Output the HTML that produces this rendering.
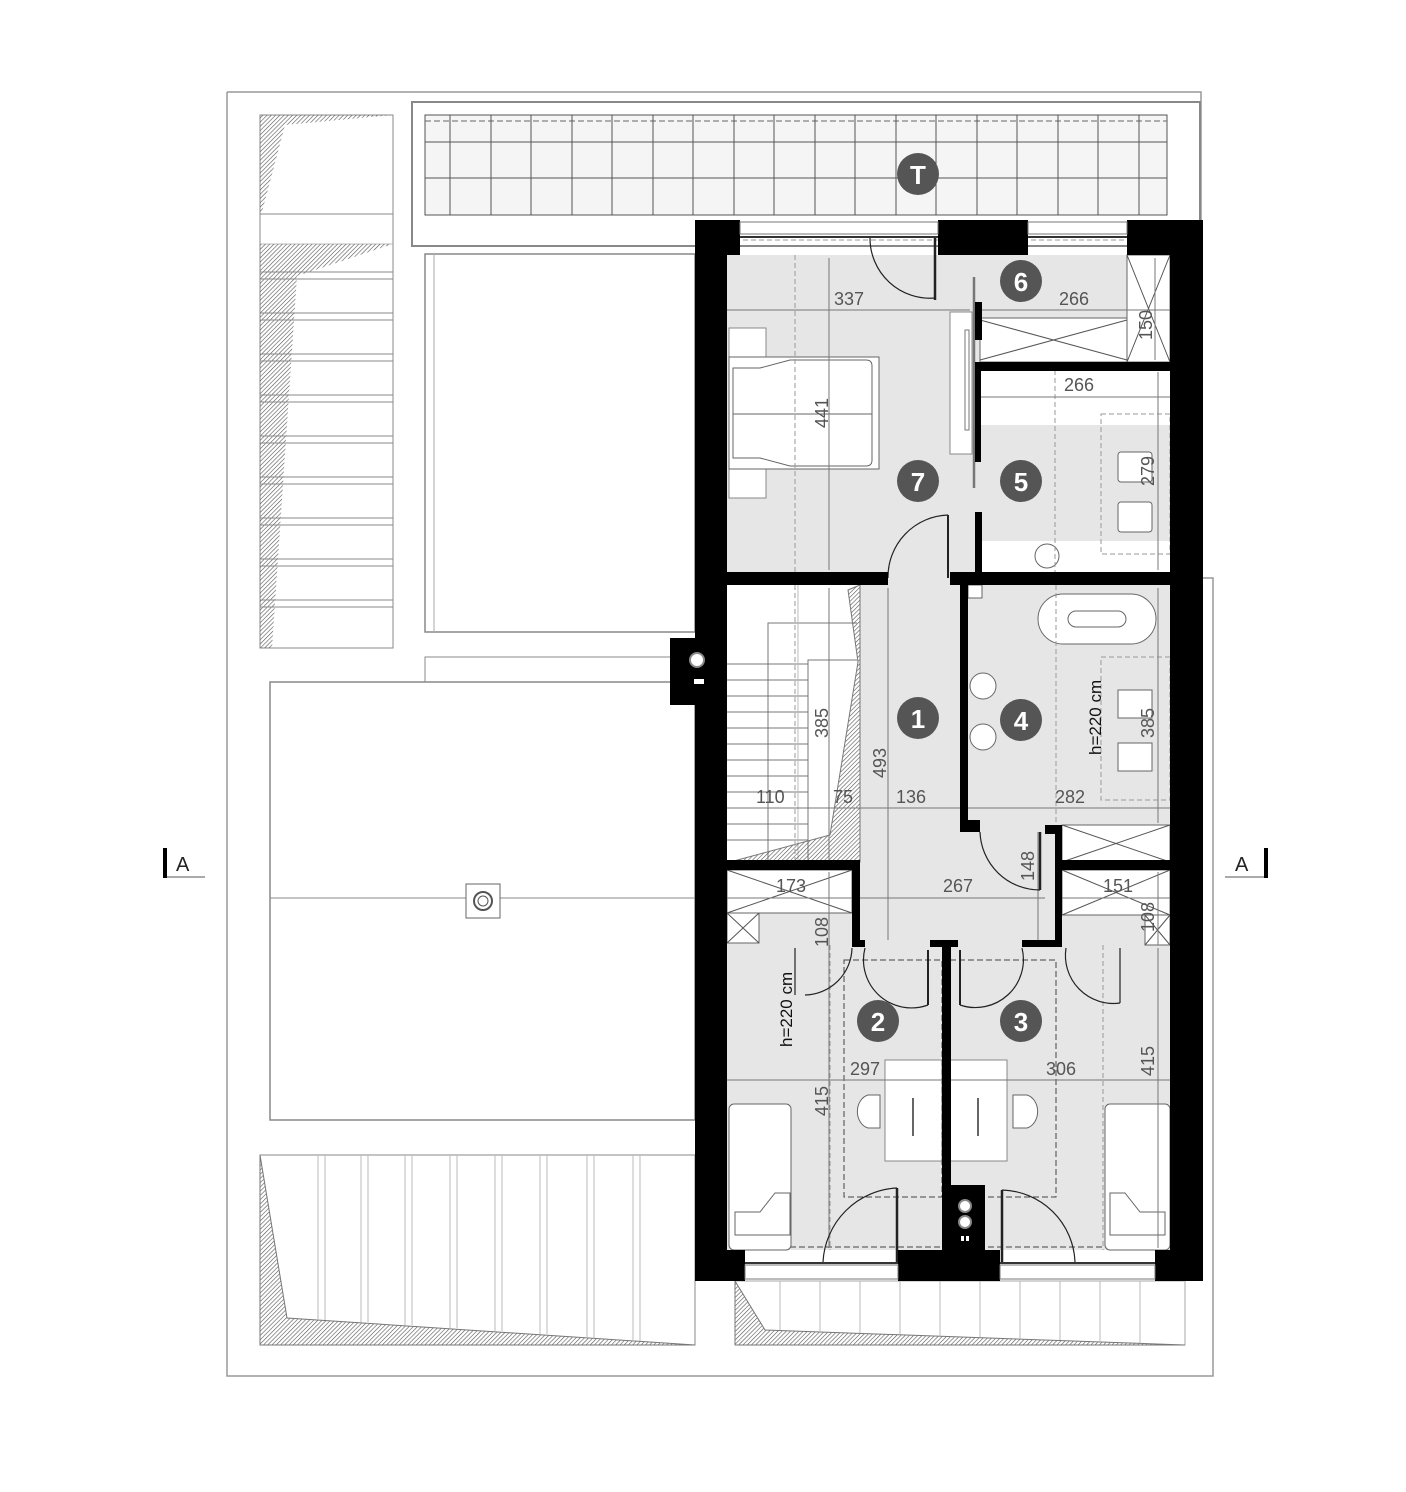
<!DOCTYPE html>
<html><head><meta charset="utf-8"><style>
html,body{margin:0;padding:0;background:#fff}
svg{display:block}
.d{font-family:"Liberation Sans Narrow","Liberation Sans",sans-serif;font-size:18px;fill:#555}
.n{font-family:"Liberation Sans",sans-serif;font-size:26px;font-weight:bold;fill:#fff;text-anchor:middle}
</style></head><body>
<svg width="1406" height="1492" viewBox="0 0 1406 1492" xmlns="http://www.w3.org/2000/svg">
<defs>
<pattern id="h" width="3" height="3" patternUnits="userSpaceOnUse" patternTransform="rotate(45)"><line x1="0" y1="0" x2="0" y2="3" stroke="#555" stroke-width="1.2"/></pattern>
</defs>
<!-- outer frame -->
<path d="M227 92 H1201 V220 M1201 578 H1213 V1376 H227 V92" fill="none" stroke="#999" stroke-width="1.5"/>

<!-- left stairs top -->
<rect x="260" y="115" width="133" height="533" fill="#fff" stroke="#888"/>
<polygon points="260,115 393,115 285,125 262,212 260,212" fill="url(#h)"/>
<line x1="260" y1="214" x2="393" y2="214" stroke="#888"/>
<line x1="260" y1="244" x2="393" y2="244" stroke="#bbb"/>
<polygon points="260,244 393,244 297,276 272,648 260,648" fill="url(#h)"/>
<g stroke="#888">
<line x1="260" y1="272" x2="393" y2="272"/><line x1="260" y1="279" x2="393" y2="279"/>
<line x1="260" y1="313" x2="393" y2="313"/><line x1="260" y1="320" x2="393" y2="320"/>
<line x1="260" y1="354" x2="393" y2="354"/><line x1="260" y1="361" x2="393" y2="361"/>
<line x1="260" y1="395" x2="393" y2="395"/><line x1="260" y1="402" x2="393" y2="402"/>
<line x1="260" y1="436" x2="393" y2="436"/><line x1="260" y1="443" x2="393" y2="443"/>
<line x1="260" y1="477" x2="393" y2="477"/><line x1="260" y1="484" x2="393" y2="484"/>
<line x1="260" y1="518" x2="393" y2="518"/><line x1="260" y1="525" x2="393" y2="525"/>
<line x1="260" y1="559" x2="393" y2="559"/><line x1="260" y1="566" x2="393" y2="566"/>
<line x1="260" y1="600" x2="393" y2="600"/><line x1="260" y1="607" x2="393" y2="607"/>
</g>

<!-- terrace -->
<rect x="412" y="102" width="788" height="144" fill="#fff" stroke="#888" stroke-width="2"/>
<rect x="425" y="115" width="742" height="100" fill="#f5f5f5" stroke="#555"/>
<line x1="425" y1="121" x2="1167" y2="121" stroke="#666" stroke-dasharray="6,3"/>
<g stroke="#555">
<line x1="425" y1="142" x2="1167" y2="142"/><line x1="425" y1="178" x2="1167" y2="178"/>
<line x1="450" y1="115" x2="450" y2="215"/><line x1="491" y1="115" x2="491" y2="215"/><line x1="531" y1="115" x2="531" y2="215"/><line x1="572" y1="115" x2="572" y2="215"/><line x1="612" y1="115" x2="612" y2="215"/><line x1="653" y1="115" x2="653" y2="215"/><line x1="693" y1="115" x2="693" y2="215"/><line x1="734" y1="115" x2="734" y2="215"/><line x1="774" y1="115" x2="774" y2="215"/><line x1="815" y1="115" x2="815" y2="215"/><line x1="855" y1="115" x2="855" y2="215"/><line x1="896" y1="115" x2="896" y2="215"/><line x1="936" y1="115" x2="936" y2="215"/><line x1="977" y1="115" x2="977" y2="215"/><line x1="1017" y1="115" x2="1017" y2="215"/><line x1="1058" y1="115" x2="1058" y2="215"/><line x1="1098" y1="115" x2="1098" y2="215"/><line x1="1139" y1="115" x2="1139" y2="215"/>
</g>

<!-- roof areas left -->
<rect x="425" y="254" width="270" height="378" fill="#fff" stroke="#888" stroke-width="1.5"/>
<line x1="434" y1="254" x2="434" y2="632" stroke="#aaa"/>
<path d="M425 682 V657 H695" fill="none" stroke="#888"/>
<rect x="270" y="682" width="425" height="438" fill="#fff" stroke="#888" stroke-width="1.5"/>
<line x1="270" y1="898" x2="695" y2="898" stroke="#888"/>
<rect x="466" y="884" width="34" height="34" fill="#fff" stroke="#666"/>
<circle cx="483" cy="901" r="9" fill="none" stroke="#555" stroke-width="2"/><circle cx="483" cy="901" r="5" fill="none" stroke="#555"/>

<!-- bottom left roof -->
<rect x="260" y="1155" width="435" height="190" fill="#fff" stroke="#888"/>
<polygon points="260,1155 287,1318 695,1345 260,1345" fill="url(#h)" stroke="#777"/>
<g stroke="#bbb">
<line x1="318" y1="1155" x2="318" y2="1320"/><line x1="325" y1="1155" x2="325" y2="1320"/>
<line x1="361" y1="1155" x2="361" y2="1322"/><line x1="368" y1="1155" x2="368" y2="1322"/>
<line x1="405" y1="1155" x2="405" y2="1325"/><line x1="412" y1="1155" x2="412" y2="1325"/>
<line x1="450" y1="1155" x2="450" y2="1328"/><line x1="457" y1="1155" x2="457" y2="1328"/>
<line x1="495" y1="1155" x2="495" y2="1331"/><line x1="502" y1="1155" x2="502" y2="1331"/>
<line x1="540" y1="1155" x2="540" y2="1334"/><line x1="547" y1="1155" x2="547" y2="1334"/>
<line x1="587" y1="1155" x2="587" y2="1338"/><line x1="594" y1="1155" x2="594" y2="1338"/>
<line x1="633" y1="1155" x2="633" y2="1341"/><line x1="640" y1="1155" x2="640" y2="1341"/>
</g>
<rect x="735" y="1281" width="450" height="64" fill="#fff" stroke="#aaa"/>
<polygon points="735,1281 765,1330 1185,1345 735,1345" fill="url(#h)" stroke="#777"/>
<g stroke="#bbb">
<line x1="780" y1="1281" x2="780" y2="1330"/><line x1="820" y1="1281" x2="820" y2="1332"/><line x1="860" y1="1281" x2="860" y2="1333"/><line x1="900" y1="1281" x2="900" y2="1334"/><line x1="940" y1="1281" x2="940" y2="1336"/><line x1="980" y1="1281" x2="980" y2="1337"/><line x1="1020" y1="1281" x2="1020" y2="1339"/><line x1="1060" y1="1281" x2="1060" y2="1340"/><line x1="1100" y1="1281" x2="1100" y2="1341"/><line x1="1140" y1="1281" x2="1140" y2="1343"/>
</g>

<!-- interior floor -->
<rect x="727" y="255" width="443" height="995" fill="#e6e6e6"/>
<rect x="980" y="318" width="190" height="44" fill="#fff" stroke="#666"/>
<path d="M980 320 L1127 360 M980 360 L1127 320" stroke="#555"/>
<rect x="1127" y="255" width="43" height="107" fill="#fff" stroke="#666"/>
<path d="M1127 255 L1170 362 M1170 255 L1127 362" stroke="#555"/>
<rect x="980" y="370" width="190" height="55" fill="#fff"/>
<rect x="980" y="541" width="190" height="31" fill="#fff"/>
<circle cx="1047" cy="556" r="12" fill="#fff" stroke="#666"/>
<rect x="1101" y="414" width="69" height="140" fill="none" stroke="#999" stroke-dasharray="5,3"/>
<rect x="1118" y="452" width="34" height="30" fill="#fff" stroke="#666" rx="3"/>
<rect x="1118" y="502" width="34" height="30" fill="#fff" stroke="#666" rx="3"/>
<rect x="729" y="328" width="37" height="170" fill="#fff" stroke="#888"/>
<rect x="729" y="357" width="150" height="112" fill="#fff" stroke="#666"/>
<path d="M733 368 H760 L790 360 H866 Q872 360 872 366 V460 Q872 466 866 466 H790 L760 458 H733 Z" fill="#fff" stroke="#666"/>
<line x1="733" y1="414" x2="872" y2="414" stroke="#666"/>
<rect x="950" y="312" width="22" height="142" fill="#fff" stroke="#888"/>
<rect x="965" y="330" width="4" height="100" fill="#fff" stroke="#777"/>
<rect x="727" y="585" width="133" height="277" fill="#fff"/>
<g stroke="#777">
<line x1="727" y1="664" x2="808" y2="664"/><line x1="727" y1="680" x2="808" y2="680"/><line x1="727" y1="696" x2="808" y2="696"/><line x1="727" y1="712" x2="808" y2="712"/><line x1="727" y1="728" x2="808" y2="728"/><line x1="727" y1="744" x2="808" y2="744"/><line x1="727" y1="760" x2="808" y2="760"/><line x1="727" y1="776" x2="808" y2="776"/><line x1="727" y1="792" x2="808" y2="792"/><line x1="727" y1="808" x2="808" y2="808"/><line x1="727" y1="824" x2="808" y2="824"/><line x1="727" y1="840" x2="808" y2="840"/>
<path d="M768 862 V623 H857" fill="none"/><path d="M808 862 V660 H857" fill="none"/>
<line x1="798" y1="585" x2="798" y2="862" stroke="#bbb"/>
</g>
<polygon points="860,585 860,862 730,862 830,835 858,662 848,590" fill="url(#h)" stroke="#777"/>
<rect x="1038" y="594" width="118" height="50" rx="25" fill="#fff" stroke="#666"/>
<rect x="1068" y="611" width="58" height="16" rx="8" fill="#fff" stroke="#666"/>
<circle cx="983" cy="686" r="13" fill="#fff" stroke="#666"/>
<circle cx="983" cy="737" r="13" fill="#fff" stroke="#666"/>
<rect x="968" y="585" width="14" height="13" fill="#fff" stroke="#666"/>
<rect x="1101" y="657" width="69" height="143" fill="none" stroke="#999" stroke-dasharray="5,3"/>
<rect x="1118" y="690" width="34" height="28" fill="#fff" stroke="#666"/>
<rect x="1118" y="743" width="34" height="28" fill="#fff" stroke="#666"/>
<rect x="1062" y="825" width="108" height="37" fill="#fff" stroke="#666"/>
<path d="M1062 825 L1170 862 M1170 825 L1062 862" stroke="#555"/>
<rect x="727" y="870" width="125" height="43" fill="#fff" stroke="#666"/>
<path d="M727 870 L852 913 M852 870 L727 913" stroke="#555"/>
<rect x="727" y="913" width="32" height="30" fill="#fff" stroke="#666"/>
<path d="M727 913 L759 943 M759 913 L727 943" stroke="#555"/>
<rect x="1062" y="870" width="108" height="45" fill="#fff" stroke="#666"/>
<path d="M1062 870 L1170 915 M1170 870 L1062 915" stroke="#555"/>
<rect x="1145" y="915" width="25" height="30" fill="#fff" stroke="#666"/>
<path d="M1145 915 L1170 945 M1170 915 L1145 945" stroke="#555"/>
<rect x="885" y="1060" width="57" height="101" fill="#fff" stroke="#888"/>
<rect x="950" y="1060" width="57" height="101" fill="#fff" stroke="#888"/>
<path d="M880 1095 H868 A14 17 0 0 0 868 1128 H880 Z" fill="#fff" stroke="#666"/>
<path d="M1013 1095 H1027 A14 17 0 0 1 1027 1128 H1013 Z" fill="#fff" stroke="#666"/>
<line x1="913" y1="1098" x2="913" y2="1136" stroke="#333" stroke-width="1.5"/>
<line x1="978" y1="1098" x2="978" y2="1136" stroke="#333" stroke-width="1.5"/>
<rect x="844" y="960" width="98" height="237" fill="none" stroke="#444" stroke-dasharray="6,3"/>
<rect x="950" y="960" width="106" height="237" fill="none" stroke="#444" stroke-dasharray="6,3"/>
<line x1="745" y1="1247" x2="1155" y2="1247" stroke="#444" stroke-dasharray="6,3"/>
<rect x="729" y="1104" width="62" height="146" rx="5" fill="#fff" stroke="#666"/>
<path d="M735 1212 H760 L775 1193 H790 V1235 H735 Z" fill="#fff" stroke="#666"/>
<rect x="1105" y="1104" width="65" height="146" rx="5" fill="#fff" stroke="#666"/>
<path d="M1165 1212 H1140 L1125 1193 H1110 V1235 H1165 Z" fill="#fff" stroke="#666"/>

<g stroke="#999" stroke-dasharray="5,3" fill="none">
<line x1="795" y1="255" x2="795" y2="578"/><line x1="1055" y1="370" x2="1055" y2="578"/>
<line x1="1056" y1="585" x2="1056" y2="825"/><line x1="795" y1="585" x2="795" y2="862"/>
<line x1="830" y1="945" x2="830" y2="1250"/><line x1="1103" y1="945" x2="1103" y2="1250"/>
<line x1="727" y1="240" x2="1170" y2="240"/>
</g>
<g stroke="#777" stroke-width="1">
<line x1="727" y1="310" x2="970" y2="310"/><line x1="980" y1="310" x2="1170" y2="310"/>
<line x1="1155" y1="258" x2="1155" y2="360"/>
<line x1="980" y1="397" x2="1170" y2="397"/>
<line x1="829" y1="258" x2="829" y2="570"/>
<line x1="1158" y1="372" x2="1158" y2="570"/>
<line x1="829" y1="588" x2="829" y2="860"/>
<line x1="888" y1="588" x2="888" y2="940"/>
<line x1="727" y1="808" x2="1170" y2="808"/>
<line x1="1158" y1="588" x2="1158" y2="823"/>
<line x1="727" y1="898" x2="852" y2="898"/>
<line x1="860" y1="898" x2="1045" y2="898"/>
<line x1="1062" y1="898" x2="1170" y2="898"/>
<line x1="1038" y1="832" x2="1038" y2="945"/>
<line x1="829" y1="872" x2="829" y2="1000"/>
<line x1="1158" y1="872" x2="1158" y2="945"/>
<line x1="727" y1="1080" x2="942" y2="1080"/><line x1="950" y1="1080" x2="1170" y2="1080"/>
<line x1="829" y1="948" x2="829" y2="1248"/>
<line x1="1158" y1="948" x2="1158" y2="1248"/>
</g>

<g fill="none" stroke="#222" stroke-width="1.2">
<path d="M870 238 A60 60 0 0 0 935 298"/><line x1="935" y1="238" x2="935" y2="300" stroke-width="2.5"/>
<path d="M888 578 A62 62 0 0 1 948 515"/><line x1="948" y1="515" x2="948" y2="578" stroke-width="2"/>
<path d="M980 832 A60 60 0 0 0 1040 890"/><line x1="1040" y1="832" x2="1040" y2="890" stroke-width="2.5"/>
<path d="M852 948 A48 48 0 0 1 805 995"/><line x1="795" y1="995" x2="795" y2="948"/>
<path d="M865 948 A48 48 0 0 0 928 1005"/><line x1="928" y1="950" x2="928" y2="1005" stroke-width="2"/>
<path d="M1022 948 A48 48 0 0 1 960 1005"/><line x1="960" y1="950" x2="960" y2="1005" stroke-width="2"/>
<path d="M1066 948 A48 48 0 0 0 1120 1003"/><line x1="1120" y1="948" x2="1120" y2="1003"/>
<path d="M823 1262 A78 78 0 0 1 897 1188"/><line x1="897" y1="1188" x2="897" y2="1262" stroke-width="2.5"/>
<path d="M1075 1262 A75 75 0 0 0 1002 1190"/><line x1="1002" y1="1190" x2="1002" y2="1262" stroke-width="2.5"/>
</g>
<line x1="974" y1="277" x2="974" y2="488" stroke="#777" stroke-width="2.5"/>

<g fill="#000">
<rect x="695" y="220" width="45" height="35"/><rect x="695" y="220" width="32" height="1061"/>
<rect x="938" y="220" width="90" height="35"/>
<rect x="1127" y="220" width="76" height="35"/><rect x="1170" y="220" width="33" height="1061"/>
<rect x="695" y="1250" width="50" height="31"/><rect x="898" y="1250" width="102" height="31"/><rect x="1155" y="1250" width="48" height="31"/>
<rect x="975" y="302" width="7" height="38"/><rect x="975" y="362" width="195" height="9"/><rect x="975" y="362" width="6" height="100"/>
<rect x="975" y="512" width="7" height="60"/>
<rect x="727" y="572" width="161" height="13"/><rect x="950" y="572" width="220" height="13"/>
<rect x="960" y="585" width="8" height="247"/><rect x="960" y="820" width="20" height="12"/>
<rect x="1045" y="825" width="17" height="9"/><rect x="1055" y="825" width="7" height="120"/>
<rect x="727" y="860" width="133" height="10"/><rect x="1062" y="860" width="108" height="10"/>
<rect x="852" y="862" width="8" height="83"/><rect x="852" y="940" width="13" height="7"/>
<rect x="930" y="940" width="28" height="7"/><rect x="942" y="940" width="9" height="250"/>
<rect x="1022" y="940" width="40" height="7"/>
<rect x="942" y="1185" width="43" height="70"/>
<rect x="670" y="638" width="25" height="67"/>
</g>
<circle cx="697" cy="660" r="7" fill="#fff" stroke="#888" stroke-width="2"/>
<rect x="694" y="679" width="10" height="5" fill="#fff"/>
<circle cx="965" cy="1206" r="6" fill="#fff" stroke="#888" stroke-width="2"/>
<circle cx="965" cy="1222" r="6" fill="#fff" stroke="#888" stroke-width="2"/>
<rect x="961" y="1236" width="3" height="5" fill="#fff"/><rect x="966" y="1236" width="3" height="5" fill="#fff"/>
<g fill="#fff" stroke="#777">
<rect x="740" y="222" width="198" height="12"/><rect x="1028" y="222" width="99" height="12"/>
<rect x="745" y="1265" width="153" height="14"/><rect x="1000" y="1265" width="155" height="14"/>
</g>
<g stroke="#333" stroke-width="2"><line x1="740" y1="237" x2="938" y2="237"/><line x1="1028" y1="237" x2="1127" y2="237"/>
<line x1="745" y1="1263" x2="898" y2="1263"/><line x1="1000" y1="1263" x2="1155" y2="1263"/></g>

<g class="d">
<text x="834" y="305">337</text><text x="1059" y="305">266</text>
<text x="1064" y="391">266</text>
<text x="1152" y="340" transform="rotate(-90 1152 340)">150</text>
<text x="828" y="428" transform="rotate(-90 828 428)">441</text>
<text x="1154" y="486" transform="rotate(-90 1154 486)">279</text>
<text x="828" y="738" transform="rotate(-90 828 738)">385</text>
<text x="886" y="778" transform="rotate(-90 886 778)">493</text>
<text x="756" y="803">110</text><text x="833" y="803">75</text><text x="896" y="803">136</text><text x="1055" y="803">282</text>
<text x="1101" y="755" transform="rotate(-90 1101 755)" style="fill:#111;font-size:17px">h=220 cm</text>
<text x="1154" y="738" transform="rotate(-90 1154 738)">385</text>
<text x="776" y="892">173</text><text x="943" y="892">267</text><text x="1103" y="892">151</text>
<text x="1034" y="881" transform="rotate(-90 1034 881)">148</text>
<text x="828" y="947" transform="rotate(-90 828 947)">108</text>
<text x="1154" y="932" transform="rotate(-90 1154 932)">108</text>
<text x="792" y="1047" transform="rotate(-90 792 1047)" style="fill:#111;font-size:17px">h=220 cm</text>
<text x="850" y="1075">297</text><text x="1046" y="1075">306</text>
<text x="1154" y="1076" transform="rotate(-90 1154 1076)">415</text>
<text x="828" y="1116" transform="rotate(-90 828 1116)">415</text>
</g>

<g>
<circle cx="918" cy="174" r="21" fill="#555"/><text class="n" x="918" y="184">T</text>
<circle cx="1021" cy="281" r="21" fill="#555"/><text class="n" x="1021" y="291">6</text>
<circle cx="918" cy="481" r="21" fill="#555"/><text class="n" x="918" y="491">7</text>
<circle cx="1021" cy="481" r="21" fill="#555"/><text class="n" x="1021" y="491">5</text>
<circle cx="918" cy="718" r="21" fill="#555"/><text class="n" x="918" y="728">1</text>
<circle cx="1021" cy="720" r="21" fill="#555"/><text class="n" x="1021" y="730">4</text>
<circle cx="878" cy="1021" r="21" fill="#555"/><text class="n" x="878" y="1031">2</text>
<circle cx="1021" cy="1021" r="21" fill="#555"/><text class="n" x="1021" y="1031">3</text>
</g>

<rect x="163" y="848" width="4" height="30" fill="#000"/>
<line x1="167" y1="877" x2="205" y2="877" stroke="#555"/>
<text x="176" y="871" style="font-family:'Liberation Sans',sans-serif;font-size:20px;fill:#222">A</text>
<rect x="1264" y="848" width="4" height="30" fill="#000"/>
<line x1="1225" y1="877" x2="1264" y2="877" stroke="#555"/>
<text x="1235" y="871" style="font-family:'Liberation Sans',sans-serif;font-size:20px;fill:#222">A</text>
</svg>
</body></html>
